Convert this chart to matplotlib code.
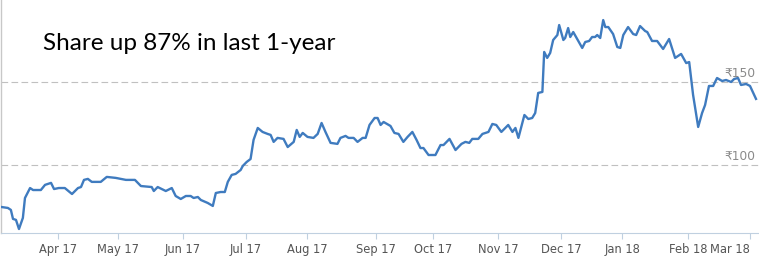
import matplotlib
matplotlib.use("Agg")
import matplotlib.pyplot as plt

# trading-session index (x) and share price in rupees (y)
sessions = [0, 2.3, 3.3, 4, 5, 6, 7.3, 8, 9.7, 10.7, 13.3, 14.7, 16.7, 17.7, 19.3, 21.3,
            23.7, 25.7, 26.7, 27.7, 29, 30.3, 33.3, 35.3, 38.3, 41.7, 44.7, 46.7, 50.3, 51,
            52.3, 55, 57, 58.3, 60, 61.7, 63.3, 64.3, 65.7, 66.7, 69, 70.7, 71.7, 73.3, 74.7,
            75.7, 77, 78.3, 80, 80.7, 82, 83.3, 84.3, 85.7, 87.3, 89, 90, 91, 92.3, 94.3,
            95.7, 97.7, 98.7, 99.7, 100.7, 102.3, 104.3, 105.7, 107, 108.3, 110, 112.3, 113.3,
            115, 116, 117.7, 119, 120.7, 121.7, 123, 124.7, 125.7, 126.7, 127.7, 130, 131.3,
            132.7, 134.3, 135.7, 137.3, 138.7, 140, 141, 142.7, 145, 146.7, 147.7, 149.7,
            151.7, 153.7, 155, 156.3, 157.3, 159.3, 160.7, 162.7, 164, 165.3, 167, 169.3,
            170.7, 171.7, 172.7, 174.7, 176, 177.3, 178.3, 179.3, 180.7, 181.3, 182.3, 183.3,
            184.3, 185.7, 186.3, 187.7, 188.3, 189.3, 190, 191, 192.3, 194, 195, 196.3, 197.3,
            198.3, 199, 200, 201, 201.7, 202.7, 204.3, 205.7, 206.7, 207.7, 209.3, 211, 212,
            213.3, 215, 215.7, 217.3, 219, 221, 223, 225, 227, 228.7, 229.7, 231, 232.7, 234,
            235, 236.3, 237.7, 239, 240.7, 242, 243.7, 244.7, 246, 247, 248.7, 250, 252]
prices = [74.7, 74.1, 72.9, 67.5, 66.9, 61.4, 68.1, 80.1, 86.1, 84.9, 84.9, 88.0, 89.2, 85.5,
          86.1, 86.1, 82.5, 86.1, 86.7, 91.0, 91.6, 89.8, 89.8, 92.8, 92.2, 91.0, 91.0, 87.3,
          86.7, 84.3, 86.7, 84.3, 86.1, 81.3, 79.5, 81.3, 81.3, 80.1, 80.7, 78.9, 77.1, 75.3,
          83.1, 83.7, 83.7, 89.8, 94.0, 94.6, 97.0, 99.4, 101.8, 103.6, 115.1, 122.3, 119.9,
          118.7, 118.1, 113.9, 116.3, 115.7, 110.8, 113.9, 121.1, 116.9, 119.3, 116.9, 116.3,
          118.7, 125.3, 119.9, 113.3, 112.7, 116.3, 117.5, 116.3, 116.3, 113.9, 116.3, 116.3,
          124.1, 128.3, 128.3, 124.1, 125.9, 123.5, 119.3, 118.7, 113.9, 116.9, 119.9, 115.1,
          110.2, 110.2, 106.0, 106.0, 112.0, 112.0, 115.7, 109.0, 112.7, 113.9, 113.3, 115.7,
          115.7, 118.7, 119.9, 124.7, 124.1, 119.9, 124.1, 119.9, 122.3, 116.3, 130.1, 127.7,
          128.3, 131.3, 143.4, 144.0, 168.1, 164.5, 167.5, 175.3, 178.3, 184.3, 175.3, 176.5,
          182.5, 177.1, 180.1, 175.9, 170.5, 174.1, 174.7, 177.1, 177.1, 178.3, 176.5, 187.3,
          183.1, 183.1, 178.9, 171.1, 170.5, 178.3, 183.1, 178.9, 178.3, 183.7, 180.7, 180.1,
          174.7, 174.7, 169.9, 175.9, 164.5, 166.9, 161.4, 162.0, 142.2, 122.9, 131.3, 136.1,
          147.6, 147.6, 152.4, 150.6, 151.2, 150.0, 151.8, 152.4, 148.2, 148.8, 147.6, 139.8]

# month starts on the session axis
month_ticks = [19, 39, 60.7, 81.7, 102.3, 125, 144.3, 166, 187, 207.3, 229.3, 250]
month_labels = ["Apr 17", "May 17", "Jun 17", "Jul 17", "Aug 17", "Sep 17",
                "Oct 17", "Nov 17", "Dec 17", "Jan 18", "Feb 18", "Mar 18"]
grid_levels = [100, 150]

fig = plt.figure(figsize=(7.59, 2.56), dpi=100)
ax = fig.add_axes([1 / 759, 23 / 256, 758 / 759, 233 / 256])

for lvl in grid_levels:
    ax.axhline(lvl, color="#c0c0c0", lw=0.8, dashes=(6, 3), zorder=1)
    ax.text(251.7, lvl + 1.0, "\u20b9{:d}".format(lvl), ha="right", va="bottom",
            fontsize=8.8, color="#8a8a8a", family=["DejaVu Sans"])

ax.plot(sessions, prices, color="#3f7bbf", lw=1.7, zorder=3, solid_joinstyle="round")

ax.set_xlim(0, 253)
ax.set_ylim(59, 199.4)
ax.set_yticks([])
ax.set_xticks(month_ticks)
ax.set_xticklabels(month_labels, fontsize=8.3, color="#555555", family="DejaVu Sans")
ax.get_xticklabels()[-1].set_horizontalalignment("right")
ax.get_xticklabels()[-1].set_x(253)
ax.tick_params(axis="x", length=4, width=0.8, color="#c0d0e0", pad=3)

for side in ["top", "right"]:
    ax.spines[side].set_visible(False)
ax.spines["bottom"].set_color("#c0d0e0")
ax.spines["left"].set_color("#c8c8c8")
ax.spines["left"].set_linewidth(1.0)

fig.text(43 / 759, 1 - 43 / 256, "Share up 87% in last 1-year", fontsize=17.5,
         family="Lato", color="black", ha="left", va="center")

fig.savefig("out.png", dpi=100)
